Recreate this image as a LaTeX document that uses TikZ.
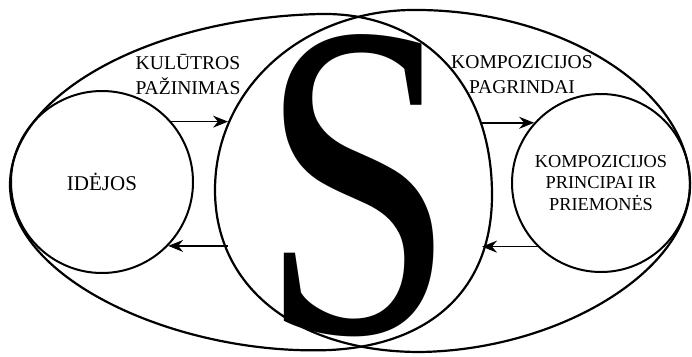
\documentclass[tikz,border=0pt]{standalone}
\usepackage{fontspec}
\setmainfont{Liberation Serif}
\usetikzlibrary{arrows.meta, positioning}
\definecolor{ink}{HTML}{000000}
\tikzset{
  >={Stealth[length=15pt, width=12pt, inset=5pt]},
  %
  outline/.style={draw=ink, line width=2.2pt},
  stage/.style={circle, draw=ink, line width=2pt, inner sep=0pt,
                minimum size=182pt, align=center, text=ink},
  %
  flow/.style={draw=ink, line width=1.5pt, ->},
  %
  lbl/.style={font=\fontsize{19.6}{25}\selectfont, text=ink, align=center,
              inner sep=0pt},
  lblin/.style={font=\fontsize{18.3}{21.5}\selectfont},
}

\begin{document}
\begin{tikzpicture}[x=1pt, y=-1pt]
\useasboundingbox (0,0) rectangle (692,356);

% =========================================================================
% the two big rings; their overlap is the middle lens
% =========================================================================
\draw[outline] (10,185) .. controls (10,95) and (150,18) .. (320,14)
  .. controls (420,12) and (492,80) .. (492,195)
  .. controls (492,290) and (430,345) .. (330,350)
  .. controls (180,356) and (10,280) .. (10,185) -- cycle;
\draw[outline] (215,190) .. controls (215,90) and (300,12) .. (410,10)
  .. controls (560,8) and (690,90) .. (690,185)
  .. controls (690,270) and (560,350) .. (420,352)
  .. controls (300,352) and (215,290) .. (215,190) -- cycle;

% =========================================================================
% circles and the letter
% =========================================================================
\node[stage, font=\fontsize{21}{25}\selectfont] (ideas) at (102,182) {IDĖJOS};
\node[stage, lblin, minimum size=178pt] (tools) at (601,183)
  {KOMPOZICIJOS\\PRINCIPAI IR\\PRIEMONĖS};

\node[inner sep=0pt, text=ink] (letter) at (358,186)
  {\scalebox{0.78}[1]{\fontsize{450}{450}\selectfont S}};

\node[lbl] (culture) at (188,75) {KULŪTROS\\PAŽINIMAS};
\node[lbl] (basics) at (522,75) {KOMPOZICIJOS\\PAGRINDAI};

% lens edges where the arrows meet
\coordinate (lensL) at (228,0);
\coordinate (lensR) at (482,0);

\draw[flow] (ideas.41) -- (ideas.41 -| lensL);
\draw[flow] (ideas.-44 -| lensL) -- (ideas.-44);
\draw[flow] (tools.138 -| lensR) -- (tools.138);
\draw[flow] (tools.-135) -- (tools.-135 -| lensR);

\end{tikzpicture}
\end{document}
